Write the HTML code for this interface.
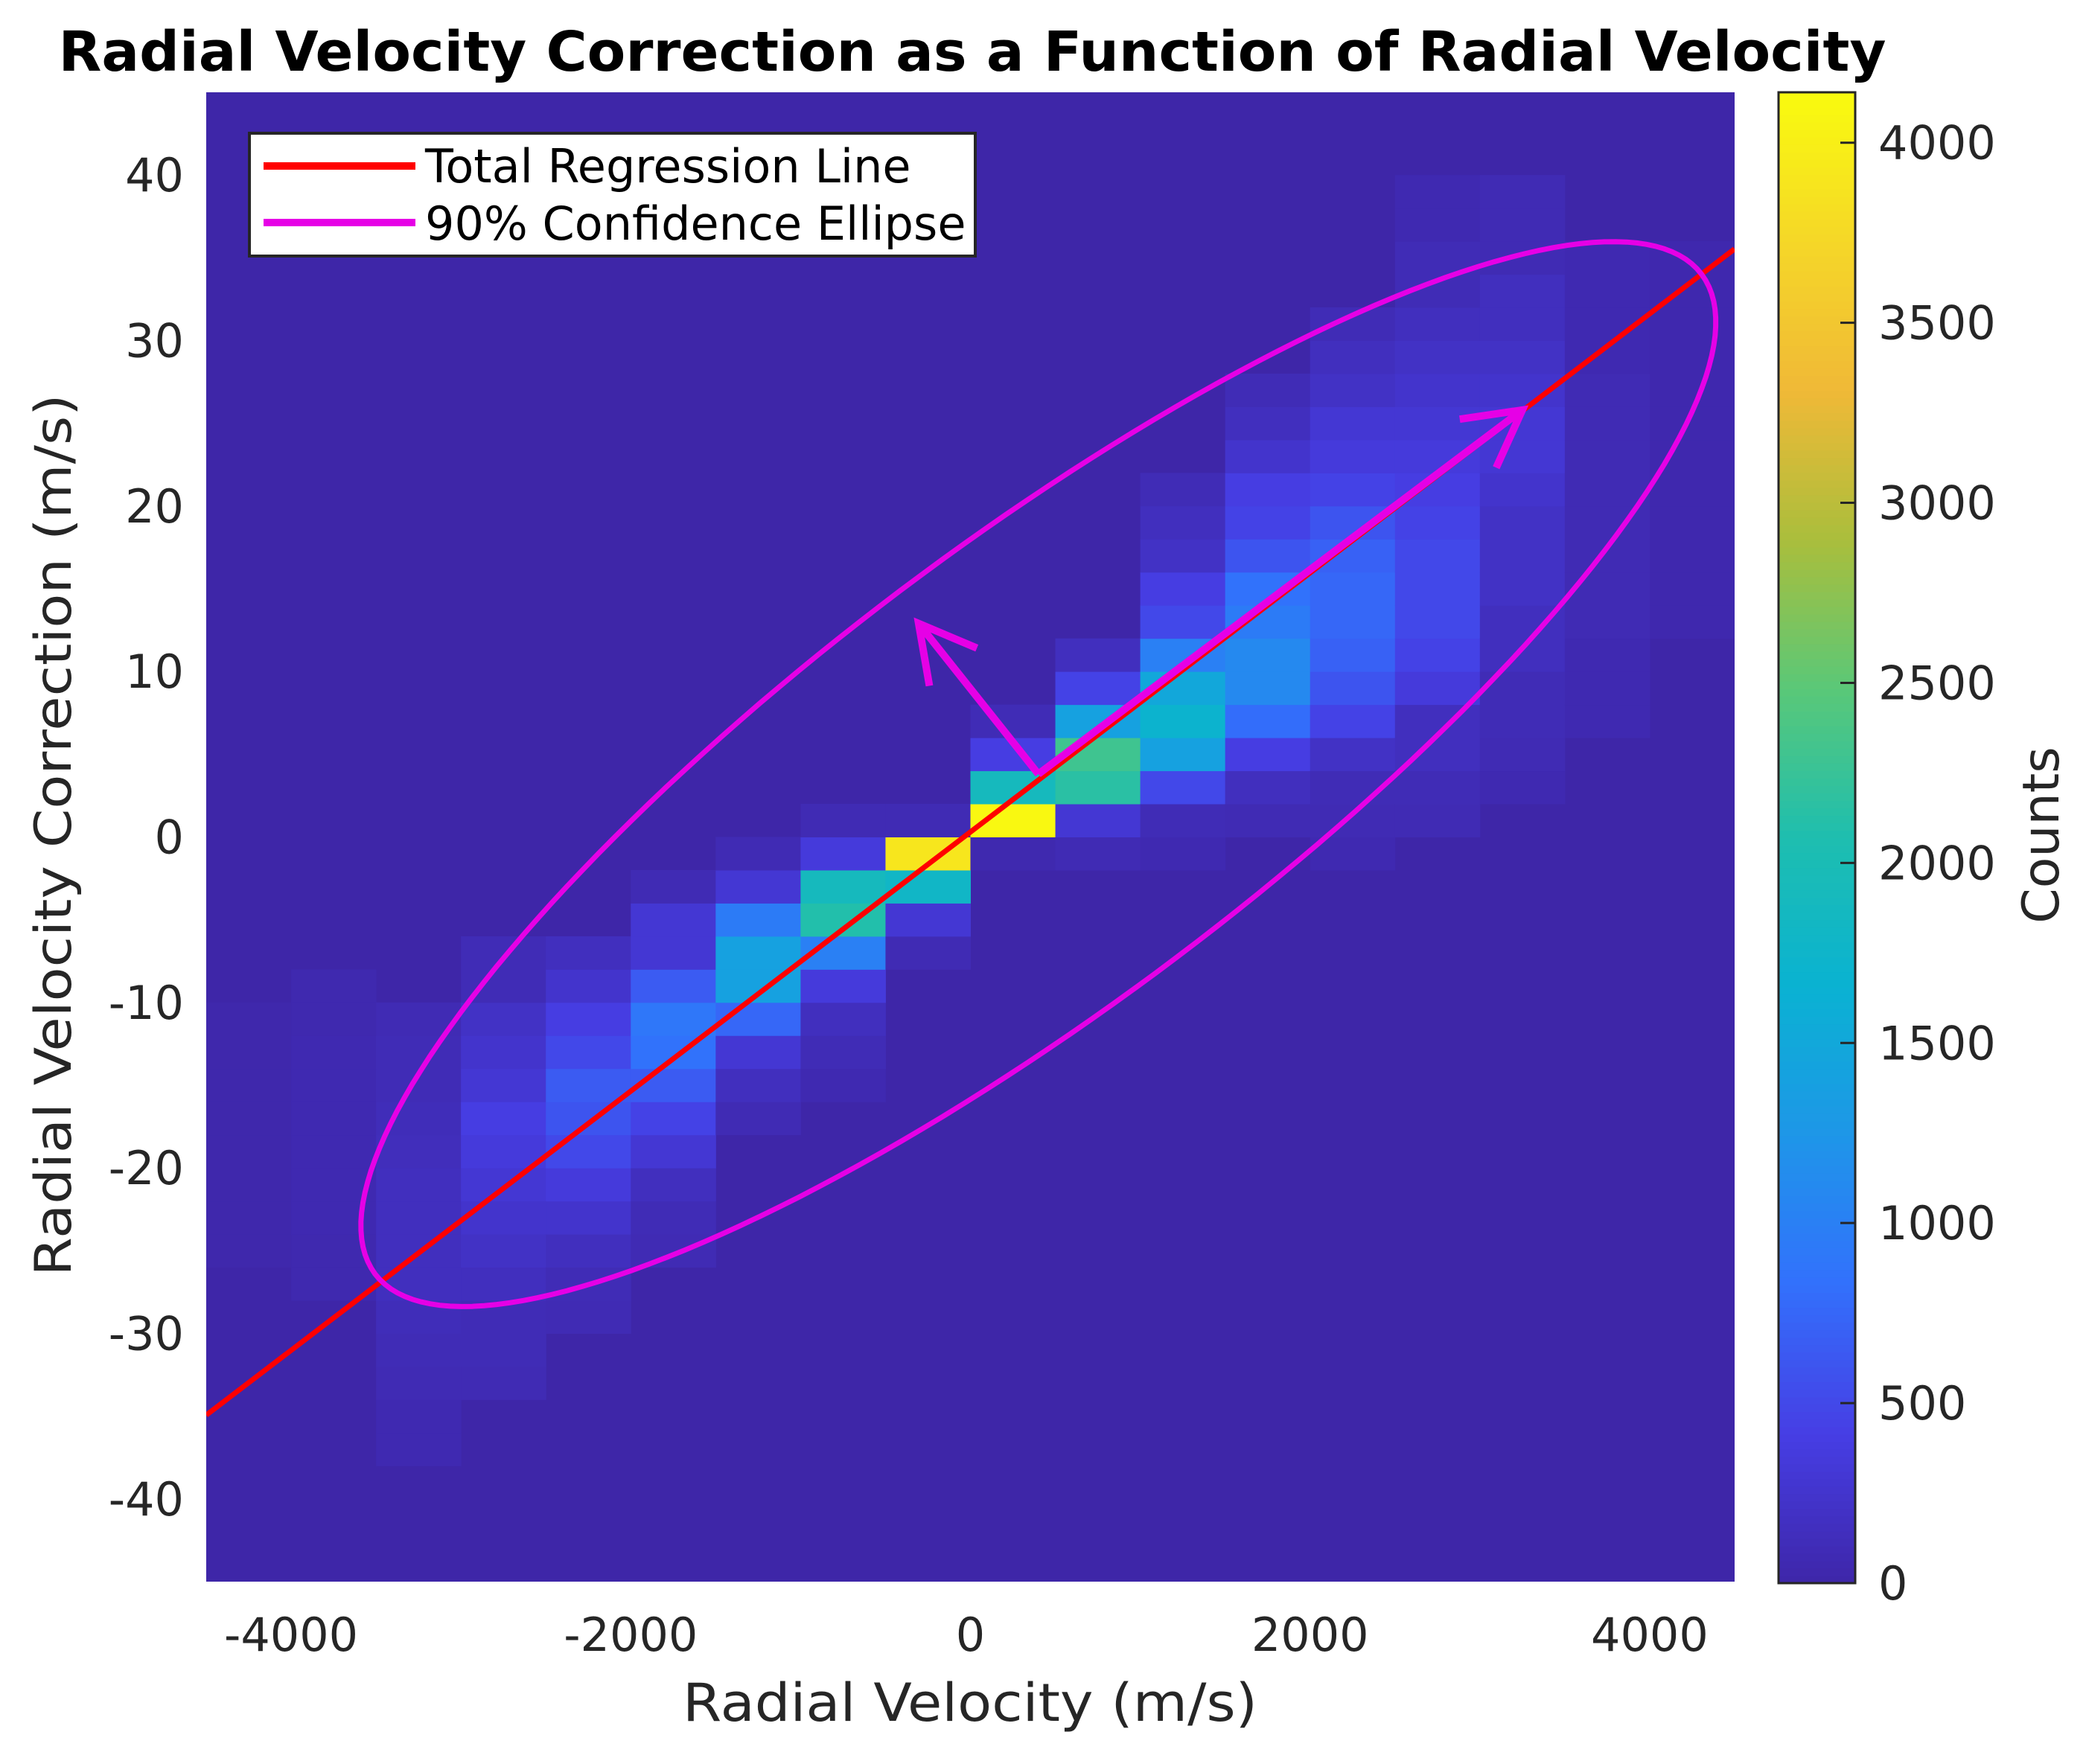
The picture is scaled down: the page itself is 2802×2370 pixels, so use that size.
<!DOCTYPE html>
<html><head><meta charset="utf-8"><style>
html,body{margin:0;padding:0;background:#fff;}
svg{display:block;font-family:"DejaVu Sans","Liberation Sans",sans-serif;}
</style></head><body>
<svg id="chart" width="2802" height="2370" viewBox="0 0 2802 2370" xmlns="http://www.w3.org/2000/svg">
<rect x="0" y="0" width="2802" height="2370" fill="#fff"/>
<text x="1306" y="95" text-anchor="middle" font-size="74" font-weight="bold" fill="#000" textLength="2455" lengthAdjust="spacingAndGlyphs">Radial Velocity Correction as a Function of Radial Velocity</text>
<defs><clipPath id="plotclip"><rect x="277" y="124" width="2053" height="2002"/></clipPath></defs>
<g id="heat" clip-path="url(#plotclip)"></g>
<g id="overlay" clip-path="url(#plotclip)"></g>
<g id="xticks"></g>
<g id="yticks"></g>
<text x="1303" y="2312" text-anchor="middle" font-size="70" fill="#262626" textLength="772" lengthAdjust="spacingAndGlyphs">Radial Velocity (m/s)</text>
<text transform="translate(95,1122) rotate(-90)" text-anchor="middle" font-size="68" fill="#262626" textLength="1185" lengthAdjust="spacingAndGlyphs">Radial Velocity Correction (m/s)</text>
<g id="cbar"></g>
<text transform="translate(2765,1122) rotate(-90)" text-anchor="middle" font-size="68" fill="#262626">Counts</text>
<g>
<rect x="335" y="179" width="975" height="165" fill="#fff" stroke="#262626" stroke-width="4"/>
<line x1="354" y1="223" x2="558" y2="223" stroke="#ff0000" stroke-width="10"/>
<text x="571" y="245" font-size="62" fill="#000">Total Regression Line</text>
<line x1="354" y1="299" x2="558" y2="299" stroke="#e600e6" stroke-width="10"/>
<text x="571" y="322" font-size="62" fill="#000">90% Confidence Ellipse</text>
</g>
</svg>
<script>
const colLeft = [-4500,-4000,-3500,-3000,-2500,-2000,-1500,-1000,-500,0,500,1000,1500,2000,2500,3000,3500,4000];
const colRowStart = [-26,-28,-38,-34,-30,-26,-18,-16,-8,-2,-2,-2,0,-2,0,2,6,12];
const colCounts = [
 [30,30,30,30,30,30,30,30],
 [50,50,60,60,60,60,60,60,50,50],
 [60,60,80,100,120,150,150,150,150,130,120,100,100,80],
 [80,100,100,150,200,250,300,350,400,300,250,200,100,100],
 [80,100,150,250,350,500,600,650,500,400,250,150],
 [80,100,150,300,450,650,850,900,650,300,300,80],
 [80,150,300,750,1400,1400,950,300,80],
 [60,100,150,350,1000,2100,1900,350,80],
 [80,300,1800,3900,80],
 [50,4100,1900,400,100],
 [80,300,2150,2300,1400,450,150],
 [60,100,500,1400,1700,1500,1000,500,400,200,150,100],
 [80,150,400,800,1100,1100,950,850,600,450,400,250,150,100],
 [60,80,100,200,450,600,700,750,750,700,600,450,350,300,200,150,100],
 [80,100,150,150,350,450,500,500,500,450,400,350,300,250,200,150,100,100,60,60],
 [60,80,100,100,150,150,200,200,200,250,300,300,250,200,150,150,80,80,80],
 [60,60,60,80,80,80,80,80,80,80,80,60,60,60,60],
 [40,40,40,40,40,40,40,40,40,40,40,40]
];
const xTicks = [-4000,-2000,0,2000,4000];
const yTicks = [-40,-30,-20,-10,0,10,20,30,40];
const cTicks = [0,500,1000,1500,2000,2500,3000,3500,4000];
const regSlope = [0.00783];
const regIntercept = [0.3];
const ellipseCenter = [400,3.8];
const ellipseMajor = [3906,30.2];
const ellipseMinor = [-811,11.1];
const arrowMajorTip = [3250,25.8];
const arrowMinorTip = [-305,12.9];

const NS="http://www.w3.org/2000/svg";
const X0=277,X1=2330,Y0=2125,Y1=124;
const xmin=-4500,xmax=4500,ymin=-45,ymax=45,cmax=4140;
const sx=v=>X0+(v-xmin)/(xmax-xmin)*(X1-X0);
const sy=v=>Y0-(v-ymin)/(ymax-ymin)*(Y0-Y1);
const anchors=[[0,62,38,168],[0.1,70,62,228],[0.2,50,112,252],[0.3,30,150,232],[0.4,10,178,210],[0.5,30,190,175],[0.6,90,200,120],[0.7,170,190,60],[0.8,240,185,55],[0.9,245,215,40],[1,249,251,14]];
function parula(t){t=Math.max(0,Math.min(1,t));for(let i=1;i<anchors.length;i++){if(t<=anchors[i][0]){const a=anchors[i-1],b=anchors[i];const f=(t-a[0])/(b[0]-a[0]);return `rgb(${Math.round(a[1]+f*(b[1]-a[1]))},${Math.round(a[2]+f*(b[2]-a[2]))},${Math.round(a[3]+f*(b[3]-a[3]))})`;}}return 'rgb(249,251,14)';}
function mk(tag,attrs,parent){const e=document.createElementNS(NS,tag);for(const k in attrs)e.setAttribute(k,attrs[k]);parent.appendChild(e);return e;}

const heat=document.getElementById('heat');
const bg=mk('rect',{x:X0,y:Y1,width:X1-X0,height:Y0-Y1,fill:parula(0)},heat);


colLeft.forEach((xl,ci)=>{
  colCounts[ci].forEach((c,ri)=>{
    const yl=colRowStart[ci]+2*ri;
    const r=mk('rect',{x:sx(xl),y:sy(yl+2),width:sx(xl+500)-sx(xl)+0.5,height:sy(yl)-sy(yl+2)+0.5,fill:parula(c/cmax)},heat);
    
    
  });
});

const ov=document.getElementById('overlay');
const rl=mk('line',{x1:sx(xmin),y1:sy(regSlope[0]*xmin+regIntercept[0]),x2:sx(xmax),y2:sy(regSlope[0]*xmax+regIntercept[0]),stroke:'#ff0000','stroke-width':7},ov);


let d='';
for(let i=0;i<=200;i++){const t=i/200*2*Math.PI;const px=ellipseCenter[0]+Math.cos(t)*ellipseMajor[0]+Math.sin(t)*ellipseMinor[0];const py=ellipseCenter[1]+Math.cos(t)*ellipseMajor[1]+Math.sin(t)*ellipseMinor[1];d+=(i?'L':'M')+sx(px).toFixed(1)+','+sy(py).toFixed(1);}
const el=mk('path',{d:d+'Z',fill:'none',stroke:'#e600e6','stroke-width':7},ov);


function arrow(tip,name){
  const cx=sx(ellipseCenter[0]),cy=sy(ellipseCenter[1]),tx=sx(tip[0]),ty=sy(tip[1]);
  const ang=Math.atan2(ty-cy,tx-cx),h=85,s=0.5;
  const p=`M${cx},${cy}L${tx},${ty}M${tx-h*Math.cos(ang-s)},${ty-h*Math.sin(ang-s)}L${tx},${ty}L${tx-h*Math.cos(ang+s)},${ty-h*Math.sin(ang+s)}`;
  const a=mk('path',{d:p,fill:'none',stroke:'#e600e6','stroke-width':10},ov);
  
  
}
arrow(arrowMajorTip,'major-axis-arrow');
arrow(arrowMinorTip,'minor-axis-arrow');

const xg=document.getElementById('xticks');
xTicks.forEach(v=>{
  const t=mk('text',{x:sx(v),y:2218,'text-anchor':'middle','font-size':62,fill:'#262626'},xg);
  t.textContent=String(v);
  
  
});
const yg=document.getElementById('yticks');
yTicks.forEach(v=>{
  const t=mk('text',{x:247,y:sy(v)+22,'text-anchor':'end','font-size':62,fill:'#262626'},yg);
  t.textContent=String(v);
  
  
});

const cb=document.getElementById('cbar');
const CX0=2389,CX1=2492,CT=124,CB=2127;
const cs=v=>CB-v/cmax*(CB-CT);
for(let i=0;i<200;i++){
  const v0=i/200*cmax,v1=(i+1)/200*cmax;
  const r=mk('rect',{x:CX0,y:cs(v1),width:CX1-CX0,height:cs(v0)-cs(v1)+0.6,fill:parula((v0+v1)/2/cmax)},cb);
  
  
}
const cbb=mk('rect',{x:CX0,y:CT,width:CX1-CX0,height:CB-CT,fill:'none',stroke:'#262626','stroke-width':3},cb);


cTicks.forEach(v=>{
  const l=mk('line',{x1:CX1-20,x2:CX1,y1:cs(v),y2:cs(v),stroke:'#262626','stroke-width':3},cb);
  
  
  const t=mk('text',{x:2523,y:cs(v)+22,'font-size':62,fill:'#262626'},cb);
  t.textContent=String(v);
  
  
});
</script>
</body></html>
